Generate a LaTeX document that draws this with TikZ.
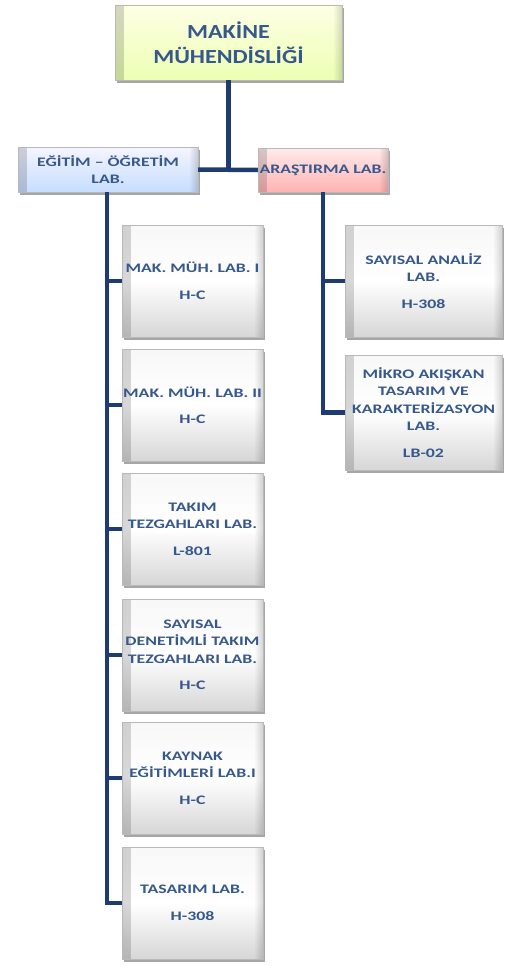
\documentclass[tikz,border=0pt]{standalone}
\usepackage{fontspec}
\setmainfont{Carlito}
\newfontfamily\boxfont[FakeStretch=1.37]{Carlito}
\newfontfamily\topfont[FakeStretch=1.2]{Carlito}
\usetikzlibrary{shadows,fadings}
\definecolor{linec}{HTML}{1E3C72}
\definecolor{txtc}{HTML}{36588C}
\tikzset{
  conn/.style={draw=linec, line width=4.5pt},
  bevel/.style={path picture={
     \fill[black, opacity=0.16, path fading=east]
       (path picture bounding box.south west) rectangle ([xshift=9pt]path picture bounding box.north west);
     \fill[black, opacity=0.16, path fading=west]
       (path picture bounding box.south east) rectangle ([xshift=-9pt]path picture bounding box.north east);
  }},
  boxbase/.style={draw=gray!55, line width=0.4pt, inner xsep=0pt, inner ysep=1pt, align=center,
    text=txtc, font=\boxfont\bfseries\fontsize{13}{17.5}\selectfont,
    drop shadow={shadow xshift=1.5pt, shadow yshift=-3pt, opacity=0.35, fill=black}, bevel},
  graybox/.style={boxbase, top color=gray!6, bottom color=gray!32, middle color=white,
    minimum width=141pt, minimum height=112pt},
  rightbox/.style={graybox, minimum width=157pt},
  topbox/.style={boxbase, top color=green!4!yellow!10, bottom color=green!25!yellow!30!white,
    minimum width=227pt, minimum height=75pt, font=\topfont\bfseries\fontsize{20}{25}\selectfont},
  bluebox/.style={boxbase, top color=blue!4, bottom color=blue!60!cyan!22,
    minimum width=180pt, minimum height=45pt},
  pinkbox/.style={boxbase, top color=red!8, bottom color=red!30,
    minimum width=130pt, minimum height=44pt},
}
\begin{document}
\begin{tikzpicture}[x=1pt,y=1pt]
\useasboundingbox (0,0) rectangle (505,-966);
% nodes
\node[topbox] (top) at (228.5,-42.5) {MAKİNE\\MÜHENDİSLİĞİ};
\node[bluebox] (egt) at (108,-169.5) {EĞİTİM – ÖĞRETİM\\LAB.};
\node[pinkbox] (ars) at (323,-170) {ARAŞTIRMA LAB.};
\node[graybox] (l1) at (192.5,-281) {MAK. MÜH. LAB. I\\[9pt]H-C};
\node[graybox] (l2) at (192.5,-405) {MAK. MÜH. LAB. II\\[9pt]H-C};
\node[graybox] (l3) at (192.5,-529) {TAKIM\\TEZGAHLARI LAB.\\[9pt]L-801};
\node[graybox] (l4) at (192.5,-655) {SAYISAL\\DENETİMLİ TAKIM\\TEZGAHLARI LAB.\\[9pt]H-C};
\node[graybox] (l5) at (192.5,-778) {KAYNAK\\EĞİTİMLERİ LAB.I\\[9pt]H-C};
\node[graybox] (l6) at (192.5,-903) {TASARIM LAB.\\[9pt]H-308};
\node[rightbox] (r1) at (423.5,-281) {SAYISAL ANALİZ\\LAB.\\[9pt]H-308};
\node[rightbox, minimum height=115pt] (r2) at (423.5,-412.5) {MİKRO AKIŞKAN\\TASARIM VE\\KARAKTERİZASYON\\LAB.\\[9pt]LB-02};
% connectors
\coordinate (lt) at (107,-192);
\draw[conn] (top.south) -- (top.south |- egt.east);
\draw[conn] (egt.east) -- (ars.west);
\draw[conn] (lt) |- (l6.west);
\foreach \i in {1,...,5} \draw[conn] (lt |- l\i.west) -- (l\i.west);
\draw[conn] (ars.south) |- (r2.west);
\draw[conn] (ars.south |- r1.west) -- (r1.west);
\end{tikzpicture}
\end{document}
